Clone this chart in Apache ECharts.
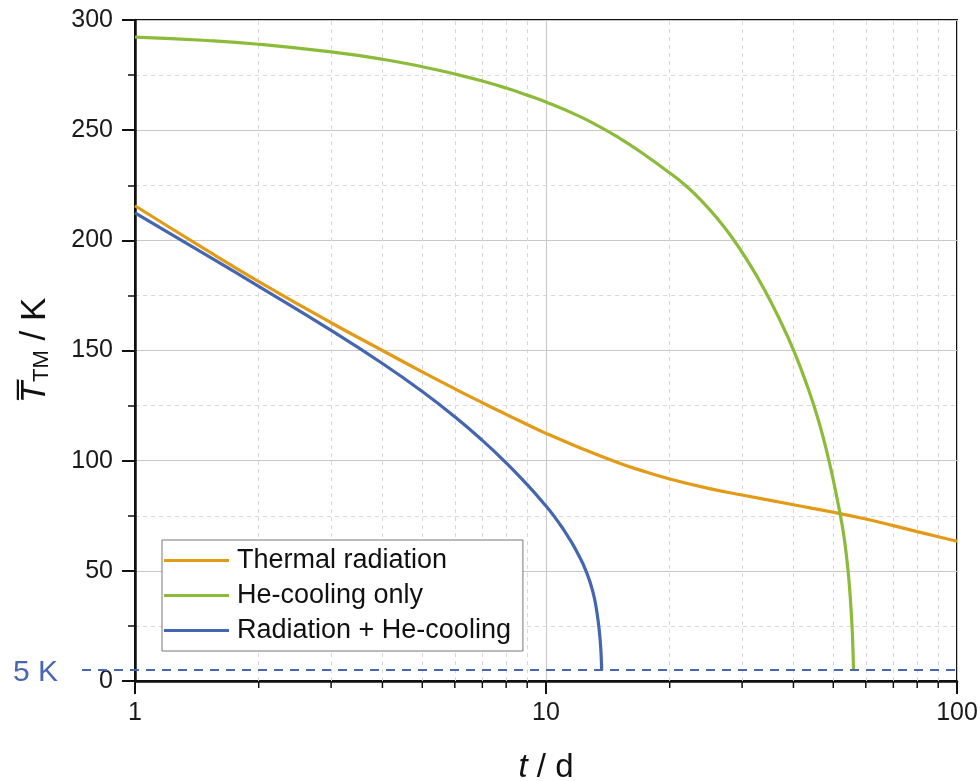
<!DOCTYPE html>
<html><head><meta charset="utf-8">
<script src="https://cdn.jsdelivr.net/npm/echarts@6/dist/echarts.min.js"></script>
<style>html,body{margin:0;padding:0;background:#fff}#c{width:980px;height:781px}</style>
</head><body><div id="c"></div>
<script>
// ---- data (t in days, T in K) ----
const thermalT = [1, 1.5, 2, 3, 4, 5, 6, 7, 8, 9, 10, 12, 14.7, 17, 20, 25, 30, 40, 50, 60, 70, 80, 90, 100];
const thermalK = [215.7, 195.3, 181.3, 162.6, 150.0, 140.3, 132.6, 126.3, 121.0, 116.4, 112.4, 106.1, 99.6, 95.6, 91.7, 87.3, 84.4, 80.0, 76.6, 73.5, 70.5, 67.8, 65.5, 63.4];
const heT = [1, 1.5, 2, 3, 4, 5, 6, 7, 8, 9, 10, 12, 13.5, 15, 17, 20, 22, 24, 26, 28.3, 31, 34, 37, 40.2, 43, 46.1, 48.7, 50.5, 52.3, 53.3, 54.3, 55, 55.5, 55.8, 56.0];
const heK = [292.2, 290.7, 289.0, 285.5, 282.2, 278.8, 275.5, 272.3, 269.1, 265.9, 262.8, 256.5, 251.6, 246.7, 240.1, 230.6, 224.4, 217.6, 210.3, 201.5, 190.4, 177.6, 164.2, 149.3, 135.0, 117.8, 100.7, 87.3, 72.9, 63.3, 50.3, 37.7, 26.0, 15.5, 5];
const radHeT = [1, 1.5, 2, 3, 4, 5, 6, 7, 8, 9, 10, 10.5, 11, 11.5, 12, 12.5, 13, 13.3, 13.5, 13.6, 13.66];
const radHeK = [212.5, 193.1, 179.1, 159.1, 144.1, 131.4, 119.9, 109.2, 99.0, 89.1, 79.4, 74.4, 69.1, 63.4, 57.2, 50.1, 40.6, 31.2, 21.5, 13.8, 5];
const seriesNames = ['Thermal radiation', 'He-cooling only', 'Radiation + He-cooling'];
const seriesColors = ['#E39A17', '#8CBB3A', '#4465B0'];
const xMinorTicks = [2, 3, 4, 5, 6, 7, 8, 9, 20, 30, 40, 50, 60, 70, 80, 90];
const yTicks = {min: 0, max: 300, step: 50};
const xRange = {min: 1, max: 100};
const limitK = 5;
const limitLabel = '5 K';

const zip = (a, b) => a.map((v, i) => [v, b[i]]);
const FONT = '"Liberation Sans", Arial, sans-serif';
const chart = echarts.init(document.getElementById('c'), null, {renderer: 'canvas'});

const lineSeries = [[thermalT, thermalK], [heT, heK], [radHeT, radHeK]].map((p, i) => ({
  name: seriesNames[i], type: 'line', data: zip(p[0], p[1]),
  showSymbol: false, symbol: 'none', z: 5, smooth: 0.5,
  lineStyle: {color: seriesColors[i], width: 3.2}, itemStyle: {color: seriesColors[i]}
}));

const option = {
  animation: false,
  backgroundColor: '#fff',
  textStyle: {fontFamily: FONT},
  grid: {left: 135, right: 23, top: 20, bottom: 100, show: true, borderColor: '#111', borderWidth: 2, outerBoundsMode: 'none'},
  legend: {
    z: 20,
    data: seriesNames.map(n => ({name: n, icon: 'rect'})),
    orient: 'vertical', left: 162, top: 540,
    itemWidth: 65, itemHeight: 3, itemGap: 8,
    padding: [7, 12, 7, 2],
    backgroundColor: '#fff', borderColor: '#777', borderWidth: 1,
    textStyle: {fontSize: 27, lineHeight: 26, color: '#111', fontFamily: FONT, padding: [0, 0, 0, 3]}
  },
  xAxis: {
    type: 'log', logBase: 10, min: xRange.min, max: xRange.max,
    name: '{i|t}{n| / d}', nameLocation: 'middle', nameGap: 70,
    nameTextStyle: {rich: {
      i: {fontSize: 33, fontStyle: 'italic', color: '#111', fontFamily: FONT},
      n: {fontSize: 33, color: '#111', fontFamily: FONT}
    }},
    axisLine: {show: true, onZero: false, lineStyle: {color: '#111', width: 2.5}},
    axisTick: {show: true, inside: false, length: 13, lineStyle: {color: '#111', width: 2}},
    axisLabel: {fontSize: 25, color: '#1a1a1a', margin: 20, fontFamily: FONT},
    splitLine: {show: true, lineStyle: {color: '#c8c8c8', width: 1}}
  },
  yAxis: {
    type: 'value', min: yTicks.min, max: yTicks.max, interval: yTicks.step,
    name: '{i|T\u0305}{s|TM}{n| / K}', nameLocation: 'middle', nameGap: 82,
    nameTextStyle: {rich: {
      i: {fontSize: 35, lineHeight: 35, fontStyle: 'italic', color: '#111', verticalAlign: 'bottom', fontFamily: FONT},
      s: {fontSize: 22, lineHeight: 22, color: '#111', verticalAlign: 'bottom', fontFamily: FONT},
      n: {fontSize: 35, lineHeight: 35, color: '#111', verticalAlign: 'bottom', fontFamily: FONT}
    }},
    axisLine: {show: true, lineStyle: {color: '#111', width: 2.5}},
    axisTick: {show: true, inside: false, length: 13, lineStyle: {color: '#111', width: 2}},
    minorTick: {show: true, splitNumber: 2, length: 7, lineStyle: {color: '#111', width: 1.5}},
    axisLabel: {fontSize: 25, color: '#1a1a1a', margin: 22, fontFamily: FONT},
    splitLine: {show: true, lineStyle: {color: '#c8c8c8', width: 1}},
    minorSplitLine: {show: true, lineStyle: {color: '#d8d8d8', width: 1, type: [4, 4]}}
  },
  series: [
    {
      name: '_minor', type: 'custom', z: 1, silent: true, clip: false,
      data: xMinorTicks.map(v => [v, yTicks.min]),
      encode: {x: 0, y: 1},
      renderItem: function (params, api) {
        const p = api.coord([api.value(0), yTicks.min]);
        return {type: 'line', shape: {x1: p[0], y1: p[1], x2: p[0], y2: p[1] + 7},
          style: {stroke: '#111', lineWidth: 1.5}};
      },
      markLine: {
        silent: true, symbol: 'none', label: {show: false}, animation: false,
        lineStyle: {color: '#d8d8d8', width: 1, type: [4, 4]},
        data: xMinorTicks.map(v => ({xAxis: v}))
      }
    }
  ].concat(lineSeries)
};
chart.setOption(option);

const p1 = chart.convertToPixel({xAxisIndex: 0, yAxisIndex: 0}, [xRange.min, limitK]);
const p2 = chart.convertToPixel({xAxisIndex: 0, yAxisIndex: 0}, [xRange.max, limitK]);
chart.setOption({
  graphic: [
    {type: 'line', z: 10, shape: {x1: p1[0] - 53, y1: p1[1], x2: p2[0], y2: p2[1]},
      style: {stroke: '#4A66B0', lineWidth: 2, lineDash: [9, 7]}},
    {type: 'text', z: 10, x: 13, y: p1[1] + 3,
      style: {text: limitLabel, fill: '#4A66B0', fontSize: 30, fontFamily: FONT, verticalAlign: 'middle', align: 'left'}}
  ]
});
</script>
</body></html>
